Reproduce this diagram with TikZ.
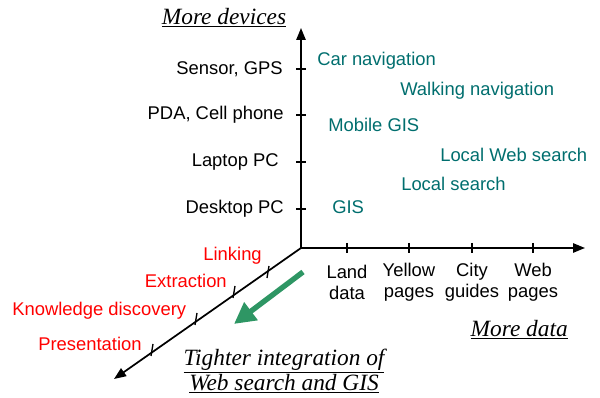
\documentclass[tikz,border=0pt]{standalone}
\usepackage{fontspec}
\setmainfont{Liberation Sans}
\newfontfamily\serifit{Liberation Serif}
\usetikzlibrary{arrows.meta}
\definecolor{tealtxt}{RGB}{0,110,110}
\definecolor{arrgreen}{RGB}{46,150,100}
\tikzset{
  axis/.style={line width=1.3pt,-{Triangle[length=9pt,width=7pt]}},
  tick/.style={line width=1pt},
  lab/.style={font=\fontsize{13.8}{16}\selectfont, inner sep=0pt},
  app/.style={lab, text=tealtxt, anchor=west},
  dev/.style={lab, anchor=east},
  task/.style={lab, text=red},
  datalab/.style={lab, align=center, font=\fontsize{13.8}{15.75}\selectfont},
  title/.style={inner sep=0pt, font=\serifit\itshape\fontsize{17.5}{18.75}\selectfont, align=center}
}
\begin{document}
\begin{tikzpicture}[x=0.75pt,y=-0.75pt]
\useasboundingbox (0,0) rectangle (600,398);
\coordinate (O) at (301,248);
\coordinate (Ytip) at (301,28);
\coordinate (Xtip) at (585,248);
\coordinate (Ztip) at (114,379);
\draw[axis] (O) -- (Ytip);
\draw[axis] (O) -- (Xtip);
\draw[axis] (O) -- (Ztip);
% vertical ticks
\foreach \y in {69,115,162,209} \draw[tick] (296,\y) -- (306,\y);
% horizontal ticks
\foreach \x in {347,409,472,533} \draw[tick] (\x,243) -- (\x,253);
% diagonal ticks
\foreach \x/\y in {268/272,234/292,196/319,152/350} \draw[tick] (\x+1,\y-6) -- (\x-1,\y+6);
% device labels
\node[dev] (d1) at (283,69) {Sensor, GPS};
\node[dev] (d2) at (284,115) {PDA, Cell phone};
\node[dev] (d3) at (279,162) {Laptop PC};
\node[dev] (d4) at (284,209) {Desktop PC};
% application labels
\node[app] (a1) at (317,61) {Car navigation};
\node[app] (a2) at (400,91) {Walking navigation};
\node[app] (a3) at (328,125) {Mobile GIS};
\node[app] (a4) at (440,155) {Local Web search};
\node[app] (a5) at (401,184) {Local search};
\node[app] (a6) at (332,207) {GIS};
% task labels
\node[task, anchor=east] (t1) at (262,256) {Linking};
\node[task, anchor=east] (t2) at (227,281) {Extraction};
\node[task, anchor=west] (t3) at (12,311) {Knowledge discovery};
\node[task, anchor=west] (t4) at (38,344) {Presentation};
% data labels
\node[datalab] (x1) at (347,282) {Land\\data};
\node[datalab] (x2) at (409,282) {Yellow\\pages};
\node[datalab] (x3) at (472,282) {City\\guides};
\node[datalab] (x4) at (533,282) {Web\\pages};
% titles
\node[title] (tdev) at (224,18) {\underline{More devices}};
\node[title, anchor=east] (tdata) at (568,330) {\underline{More data}};
\node[title] (tint) at (284,371) {\underline{Tighter integration of}\\\underline{Web search and GIS}};
% green arrow
\coordinate (g1) at (303,272);
\coordinate (g2) at (234,324);
\draw[arrgreen, line width=4pt, -{Triangle[length=16pt,width=16pt]}] (g1) -- (g2);
\end{tikzpicture}
\end{document}
